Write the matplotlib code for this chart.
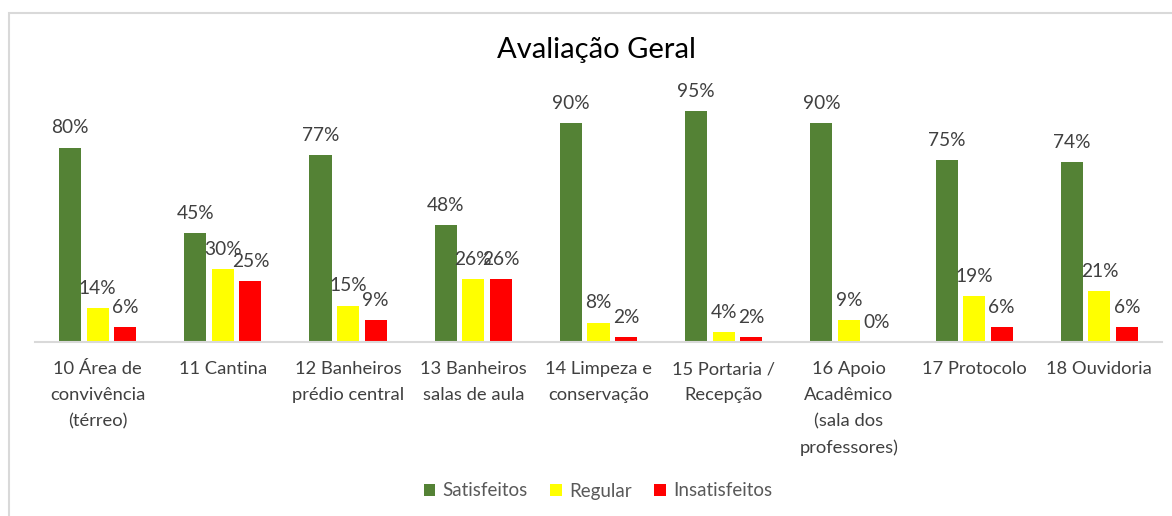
import matplotlib.pyplot as plt
import matplotlib.patches as mpatches
import numpy as np

plt.rcParams['font.family'] = ['Lato', 'DejaVu Sans']

# dados da avaliação
categorias = ['10 Área de\nconvivência\n(térreo)', '11 Cantina', '12 Banheiros\nprédio central',
              '13 Banheiros\nsalas de aula', '14 Limpeza e\nconservação', '15 Portaria /\nRecepção',
              '16 Apoio\nAcadêmico\n(sala dos\nprofessores)', '17 Protocolo', '18 Ouvidoria']
satisfeitos = [80, 45, 77, 48, 90, 95, 90, 75, 74]
regular = [14, 30, 15, 26, 8, 4, 9, 19, 21]
insatisfeitos = [6, 25, 9, 26, 2, 2, 0, 6, 6]

series = [('Satisfeitos', satisfeitos, '#548235'),
          ('Regular', regular, '#FFFF00'),
          ('Insatisfeitos', insatisfeitos, '#FF0000')]

W, H = 1172, 516
fig = plt.figure(figsize=(W / 100, H / 100), dpi=100)

# borda do gráfico (só topo e esquerda visíveis)
fig.patches.append(mpatches.Rectangle((9 / W, -0.1), 1.2, 1 - 13 / H + 0.1,
                                      transform=fig.transFigure, fill=False,
                                      edgecolor='#D9D9D9', linewidth=1.5))

ax = fig.add_axes([35 / W, (H - 342) / H, (1162 - 35) / W, (342 - 99) / H])

x = np.arange(len(categorias))
largura = 0.176
passo = 0.22

for i, (nome, vals, cor) in enumerate(series):
    pos = x + (i - 1) * passo
    barras = ax.bar(pos, np.array(vals) / 100, width=largura, color=cor, label=nome)
    for p, v in zip(pos, vals):
        ax.annotate(f'{v}%', (p, v / 100), xytext=(0, 8), textcoords='offset points',
                    ha='center', va='bottom', fontsize=13.8, color='#404040',
                    annotation_clip=False)

ax.set_xlim(-0.5, len(categorias) - 0.5)
ax.set_ylim(0, 1)
ax.set_yticks([])
for lado in ['top', 'right', 'left']:
    ax.spines[lado].set_visible(False)
ax.spines['bottom'].set_color('#D9D9D9')
ax.spines['bottom'].set_linewidth(1.5)
ax.set_xticks(x)
ax.set_xticklabels(categorias, fontsize=13.2, color='#404040', linespacing=1.75)
ax.tick_params(axis='x', length=0, pad=14)

fig.text(596 / W, 1 - 50 / H, 'Avaliação Geral', ha='center', va='center',
         fontsize=21, color='#000000')

fig.legend(loc='center', bbox_to_anchor=(598 / W, 1 - 491 / H), ncol=3, frameon=False,
           fontsize=13.5, handlelength=0.6, handleheight=0.6, handletextpad=0.4,
           columnspacing=1.2, labelcolor='#595959')

fig.savefig('out.png', dpi=100)
